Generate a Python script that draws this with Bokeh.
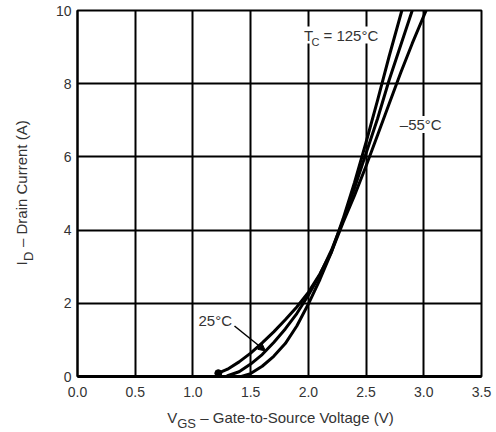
import math
from bokeh.plotting import figure
from bokeh.layouts import column, row
from bokeh.models import FixedTicker, Label, Arrow, NormalHead, PrintfTickFormatter
from bokeh.embed import file_html
from bokeh.resources import INLINE

# ---- data ----
vgs_125 = [1.22, 1.30, 1.40, 1.50, 1.60, 1.70, 1.80, 1.90, 2.00, 2.10, 2.20, 2.30,
           2.40, 2.50, 2.60, 2.70, 2.80, 2.90, 3.02]
id_125 = [0.09, 0.20, 0.40, 0.64, 0.92, 1.22, 1.55, 1.90, 2.30, 2.80, 3.40, 4.20,
          4.95, 5.75, 6.60, 7.45, 8.30, 9.10, 10.0]

vgs_25 = [1.30, 1.40, 1.50, 1.60, 1.70, 1.80, 1.90, 2.00, 2.10, 2.20, 2.30, 2.40,
          2.50, 2.60, 2.70, 2.80, 2.90]
id_25 = [0.02, 0.13, 0.34, 0.60, 0.93, 1.30, 1.72, 2.22, 2.78, 3.45, 4.25, 5.15,
         6.10, 7.05, 8.10, 9.05, 10.0]

vgs_m55 = [1.42, 1.50, 1.60, 1.70, 1.80, 1.90, 2.00, 2.10, 2.20, 2.30, 2.40, 2.50,
           2.60, 2.70, 2.81]
id_m55 = [0.00, 0.08, 0.28, 0.55, 0.90, 1.38, 1.98, 2.65, 3.40, 4.30, 5.30, 6.40,
          7.55, 8.75, 10.0]

x_ticks = [0.0, 0.5, 1.0, 1.5, 2.0, 2.5, 3.0, 3.5]
x_tick_labels = ["0.0", "0.5", "1.0", "1.5", "2.0", "2.5", "3.0", "3.5"]
y_ticks = [0, 2, 4, 6, 8, 10]
y_tick_labels = ["0", "2", "4", "6", "8", "10"]

X_MIN, X_MAX = 0.0, 3.5
Y_MIN, Y_MAX = 0.0, 10.0

# ---- layout (page pixels; Bokeh's page has no body margin) ----
PAGE_W, PAGE_H = 496, 432
YL_W = 40            # left strip holding the y-axis title
XL_H = 24            # bottom strip holding the x-axis title
MAIN_W, MAIN_H = PAGE_W - YL_W, PAGE_H - XL_H
BL, BR, BT, BB = 37, 15, 10, 32
FL, FR = YL_W + BL, YL_W + MAIN_W - BR
FT, FB = BT, MAIN_H - BB


def dx(px):
    return X_MIN + (px - FL) / (FR - FL) * (X_MAX - X_MIN)


def dy(py):
    return Y_MIN + (FB - py) / (FB - FT) * (Y_MAX - Y_MIN)


FONT = "Liberation Sans"
TXT = "#333333"

p = figure(width=MAIN_W, height=MAIN_H, x_range=(X_MIN, X_MAX), y_range=(Y_MIN, Y_MAX),
           output_backend="svg", toolbar_location=None,
           min_border_left=BL, min_border_right=BR, min_border_top=BT, min_border_bottom=BB)
p.background_fill_color = "white"
p.border_fill_color = "white"
p.outline_line_color = "black"
p.outline_line_width = 2
p.outline_line_alpha = 1.0

p.xaxis.ticker = FixedTicker(ticks=x_ticks)
p.xaxis.formatter = PrintfTickFormatter(format="%.1f")
p.xaxis.major_label_overrides = dict(zip(x_ticks, x_tick_labels))
p.yaxis.ticker = FixedTicker(ticks=y_ticks)
p.yaxis.major_label_overrides = dict(zip(y_ticks, y_tick_labels))

for ax in (p.xaxis, p.yaxis):
    ax.major_tick_line_color = None
    ax.minor_tick_line_color = None
    ax.major_tick_out = 0
    ax.major_tick_in = 0
    ax.axis_line_color = "black"
    ax.major_label_text_font = FONT
    ax.major_label_text_font_size = "14px"
    ax.major_label_text_color = TXT
    ax.axis_label = None
p.xaxis.axis_line_width = 3
p.yaxis.axis_line_width = 2
p.xaxis.major_label_standoff = 10
p.yaxis.major_label_standoff = 6

p.xgrid.ticker = FixedTicker(ticks=x_ticks)
p.ygrid.ticker = FixedTicker(ticks=y_ticks)
for g in (p.xgrid, p.ygrid):
    g.grid_line_color = "black"
    g.grid_line_width = 2
    g.grid_line_alpha = 1.0

# ---- curves ----
for xs, ys in ((vgs_125, id_125), (vgs_25, id_25), (vgs_m55, id_m55)):
    p.line(xs, ys, line_color="black", line_width=3, line_join="round", line_cap="round")
p.scatter([vgs_125[0]], [id_125[0]], size=7, color="black")


def lab(fig, text, x, y, size="15px", angle=0.0, bg=None):
    # anchor = left end of the text, vertically at the middle of the capitals
    fig.add_layout(Label(x=x, y=y, x_units="data", y_units="data", text=text,
                         text_font=FONT, text_font_size=size, text_color=TXT,
                         text_align="left", text_baseline="middle", angle=angle,
                         background_fill_color=bg))


# annotations inside the plot (white boxes interrupt the grid, as in the reference)
lab(p, "T", dx(303.5), dy(34.5), bg="white")
lab(p, "C", dx(311), dy(41), size="11px", bg="white")
lab(p, "= 125°C", dx(323), dy(34.5), bg="white")
lab(p, "–55°C", dx(399.3), dy(124), bg="white")
lab(p, "25°C", dx(198), dy(319.5), bg="white")
p.add_layout(Arrow(end=NormalHead(size=7, fill_color="black", line_color="black"),
                   x_start=dx(234), y_start=dy(325.5), x_end=dx(265), y_end=dy(350.5),
                   line_color="black", line_width=1.5))


def strip(w, h, y_range, top=0, bottom=0):
    f = figure(width=w, height=h, x_range=(0, w), y_range=y_range,
               output_backend="svg", toolbar_location=None,
               x_axis_type=None, y_axis_type=None, min_border=0,
               min_border_top=top, min_border_bottom=bottom)
    f.outline_line_color = None
    f.grid.visible = False
    f.background_fill_color = "white"
    f.border_fill_color = "white"
    return f


# y-axis title: left strip; its frame is aligned with the main frame (page y FT..FB),
# so its data y is "MAIN_H - page y"
yl = strip(YL_W, MAIN_H, (MAIN_H - FB, MAIN_H - FT), top=BT, bottom=BB)
half_pi = math.pi / 2
lab(yl, "I", 20.5, MAIN_H - 265, angle=half_pi)
lab(yl, "D", 28.3, MAIN_H - 260.5, size="13px", angle=half_pi)
lab(yl, "– Drain Current (A)", 20.5, MAIN_H - 246.5, angle=half_pi)

# x-axis title: bottom strip (top at page y MAIN_H), data y is "PAGE_H - page y"
xl = strip(PAGE_W, XL_H, (0, XL_H))
lab(xl, "V", 166.7, PAGE_H - 416.5)
lab(xl, "GS", 176.7, PAGE_H - 423.3, size="13px")
lab(xl, "– Gate-to-Source Voltage (V)", 199.7, PAGE_H - 416.5)

layout = column(row(yl, p, spacing=0), xl, spacing=0)
open("out.html", "w").write(file_html(layout, INLINE))
